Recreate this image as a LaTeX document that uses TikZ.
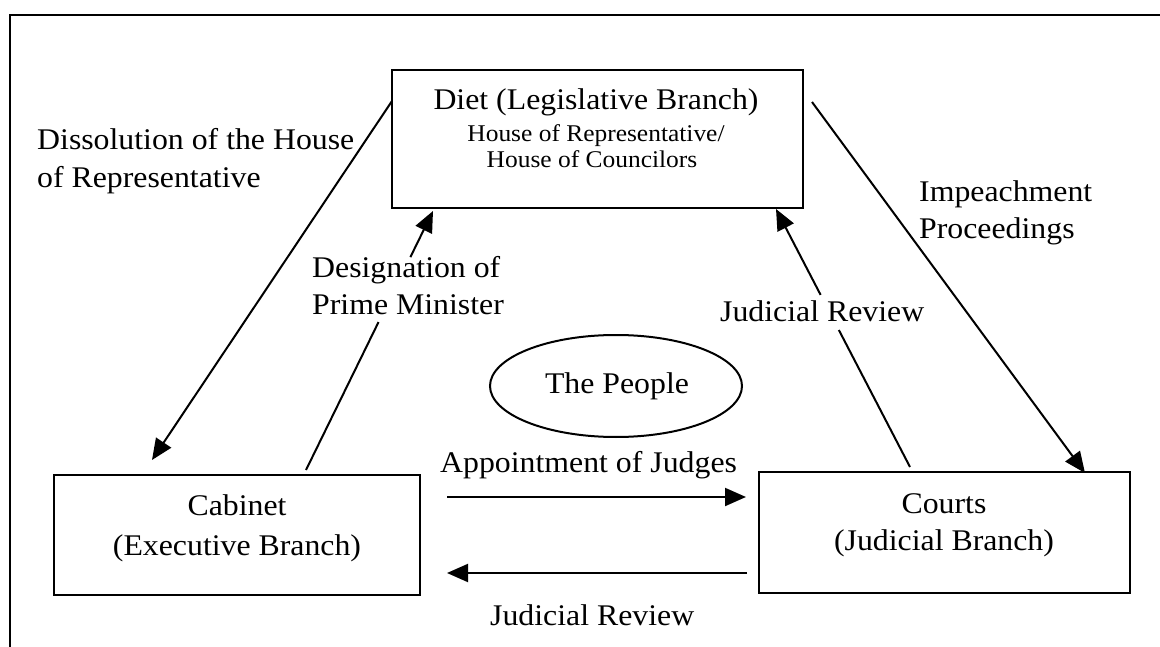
\documentclass[tikz,border=0pt]{standalone}
\usepackage{fontspec}
\setmainfont{Liberation Serif}[FakeStretch=1.06]
\usetikzlibrary{arrows.meta,shapes.geometric,calc}
\begin{document}
\begin{tikzpicture}[x=1pt,y=-1pt,
  box/.style={draw, line width=2.4pt, inner sep=0pt},
  line/.style={line width=2pt},
  conn/.style={line, -{Triangle[length=21pt,width=18pt]}},
  lbl/.style={font=\fontsize{30}{36}\selectfont, inner sep=0pt},
  small/.style={font=\fontsize{24}{28}\selectfont, inner sep=0pt}]
\useasboundingbox (0,0) rectangle (1160,647);
% frame (top and left edges)
\draw[line width=2.6pt] (1160,15) -- (10,15) -- (10,647);
% boxes
\node[box, minimum width=411pt, minimum height=138pt] (diet) at (597.5,139) {};
\node[box, minimum width=366pt, minimum height=120pt] (cabinet) at (237,535) {};
\node[box, minimum width=371pt, minimum height=121pt] (courts) at (944.5,532.5) {};
\node[draw, ellipse, line width=2pt, minimum width=252pt, minimum height=102pt, inner sep=0pt] (people) at (616,386) {};
\node[lbl] (peopletext) at (617,386) {The People};
% box texts
\node[lbl, anchor=base] (diet1) at (596,110) {Diet (Legislative Branch)};
\node[small, anchor=base] (diet2) at (596,142) {House of Representative/};
\node[small, anchor=base] (diet3) at (592,168) {House of Councilors};
\node[lbl, anchor=base] (cab1) at (237,515) {Cabinet};
\node[lbl, anchor=base] (cab2) at (237,555) {(Executive Branch)};
\node[lbl, anchor=base] (cou1) at (944,513) {Courts};
\node[lbl, anchor=base] (cou2) at (944,550) {(Judicial Branch)};
% connector end points
\coordinate (dissA) at (392,101);
\coordinate (dissB) at (152,460);
\coordinate (desA) at (306,470);
\coordinate (desB) at (433,211);
\coordinate (jrA) at (910,467);
\coordinate (jrB) at (776,209);
\coordinate (impA) at (812,102);
\coordinate (impB) at (1085,473);
\coordinate (appA) at (447,497);
\coordinate (appB) at (746,497);
\coordinate (jr2A) at (747,573);
\coordinate (jr2B) at (447,573);
% gaps where labels interrupt lines
\coordinate (desG1) at ($(desA)!0.571!(desB)$);
\coordinate (desG2) at ($(desA)!0.822!(desB)$);
\coordinate (jrG1) at ($(jrA)!0.531!(jrB)$);
\coordinate (jrG2) at ($(jrA)!0.667!(jrB)$);
% connectors
\draw[conn] (dissA) -- (dissB);
\draw[line] (desA) -- (desG1);
\draw[conn] (desG2) -- (desB);
\draw[line] (jrA) -- (jrG1);
\draw[conn] (jrG2) -- (jrB);
\draw[conn] (impA) -- (impB);
\draw[conn] (appA) -- (appB);
\draw[conn] (jr2A) -- (jr2B);
% labels
\node[lbl, anchor=base west] (diss1) at (37,150) {Dissolution of the House};
\node[lbl, anchor=base west] (diss2) at (37,188) {of Representative};
\node[lbl, anchor=base west] (des1) at (312,278) {Designation of};
\node[lbl, anchor=base west] (des2) at (312,315) {Prime Minister};
\node[lbl, anchor=base west] (jr) at (720,322) {Judicial Review};
\node[lbl, anchor=base west] (imp1) at (919,202) {Impeachment};
\node[lbl, anchor=base west] (imp2) at (919,239) {Proceedings};
\node[lbl, anchor=base west] (app) at (440,472) {Appointment of Judges};
\node[lbl, anchor=base west] (jr2) at (490,625) {Judicial Review};
\end{tikzpicture}
\end{document}
